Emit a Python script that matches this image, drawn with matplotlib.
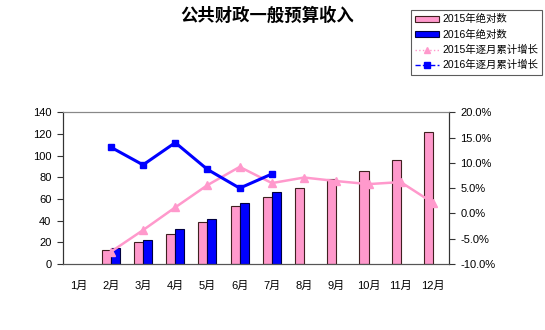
import matplotlib
matplotlib.use("Agg")
import matplotlib.pyplot as plt
from matplotlib.patches import Patch
from matplotlib.lines import Line2D
from matplotlib.ticker import FuncFormatter
import numpy as np

plt.rcParams['font.family'] = ['Liberation Sans', 'Noto Sans CJK SC']

months = ["1月", "2月", "3月", "4月", "5月", "6月", "7月", "8月", "9月", "10月", "11月", "12月"]
abs_2015 = [np.nan, 12.6, 20.0, 28.0, 38.5, 53.5, 61.5, 70.4, 78.7, 86.1, 96.0, 121.8]
abs_2016 = [np.nan, 14.5, 22.1, 32.0, 41.2, 56.3, 66.1]
growth_2015 = [np.nan, -7.6, -3.3, 1.2, 5.6, 9.2, 6.0, 7.1, 6.4, 5.8, 6.2, 2.1]
growth_2016 = [np.nan, 13.1, 9.6, 14.0, 8.7, 5.0, 7.8]

pink = "#FF99CC"
blue = "#0000FF"
edge = "#402020"

fig = plt.figure(figsize=(5.45, 3.3), dpi=100)
ax = fig.add_axes([0.1147, 0.2, 0.7092, 0.4597])
ax2 = ax.twinx()

x = np.arange(len(months))
w = 0.28
ax.bar(x - w / 2, abs_2015, width=w, color=pink, edgecolor=edge, linewidth=0.8)
x16 = np.arange(len(abs_2016))
ax.bar(x16 + w / 2, abs_2016, width=w, color=blue, edgecolor="#000040", linewidth=0.8)

ax2.plot(x, growth_2015, color=pink, lw=1.8, marker="^", ms=6, mec=pink, mfc=pink)
ax2.plot(x16, growth_2016, color=blue, lw=2.2, marker="s", ms=5, mec=blue, mfc=blue)

ax.set_xlim(-0.5, len(months) - 0.5)
ax.set_ylim(0, 140)
ax.set_yticks(np.arange(0, 141, 20))
ax2.set_ylim(-10, 20)
ax2.set_yticks(np.arange(-10, 21, 5))
ax2.yaxis.set_major_formatter(FuncFormatter(lambda v, p: f"{v:.1f}%"))

ax.set_xticks(x)
ax.set_xticklabels(months, fontsize=8)
ax.tick_params(axis="x", length=0, pad=12)
ax.tick_params(axis="y", direction="out", length=4, labelsize=8, pad=4, color="#333333")
ax2.tick_params(axis="y", direction="out", length=4, labelsize=8, pad=4, color="#333333")

for a in (ax, ax2):
    a.spines["top"].set_linestyle((0, (1, 1)))
    a.spines["top"].set_color("#888888")
    a.spines["top"].set_linewidth(0.8)
    a.spines["left"].set_color("#333333")
    a.spines["right"].set_color("#333333")
    a.spines["bottom"].set_color("#555555")
    a.spines["left"].set_linewidth(0.8)
    a.spines["right"].set_linewidth(0.8)
    a.spines["bottom"].set_linewidth(0.8)

fig.text(0.49, 0.952, "公共财政一般预算收入", ha="center", va="center",
         fontsize=12.5, fontweight="bold", family=["Noto Sans CJK SC"])

handles = [
    Patch(facecolor=pink, edgecolor=edge, linewidth=0.8),
    Patch(facecolor=blue, edgecolor="#000040", linewidth=0.8),
    Line2D([], [], color=pink, lw=1, ls=":", marker="^", ms=4, mfc=pink, mec=pink),
    Line2D([], [], color=blue, lw=1, ls="--", marker="s", ms=4, mfc=blue, mec=blue),
]
labels = ["2015年绝对数", "2016年绝对数", "2015年逐月累计增长", "2016年逐月累计增长"]
leg = fig.legend(handles, labels, loc="upper left", bbox_to_anchor=(411 / 545, 1 - 10 / 330),
                 fontsize=7.5, frameon=True, fancybox=False, handlelength=2.3, handleheight=0.5,
                 borderpad=0.4, labelspacing=0.5, handletextpad=0.3, borderaxespad=0)
leg.get_frame().set_edgecolor("#333333")
leg.get_frame().set_linewidth(0.8)

fig.savefig("out.png", dpi=100)
